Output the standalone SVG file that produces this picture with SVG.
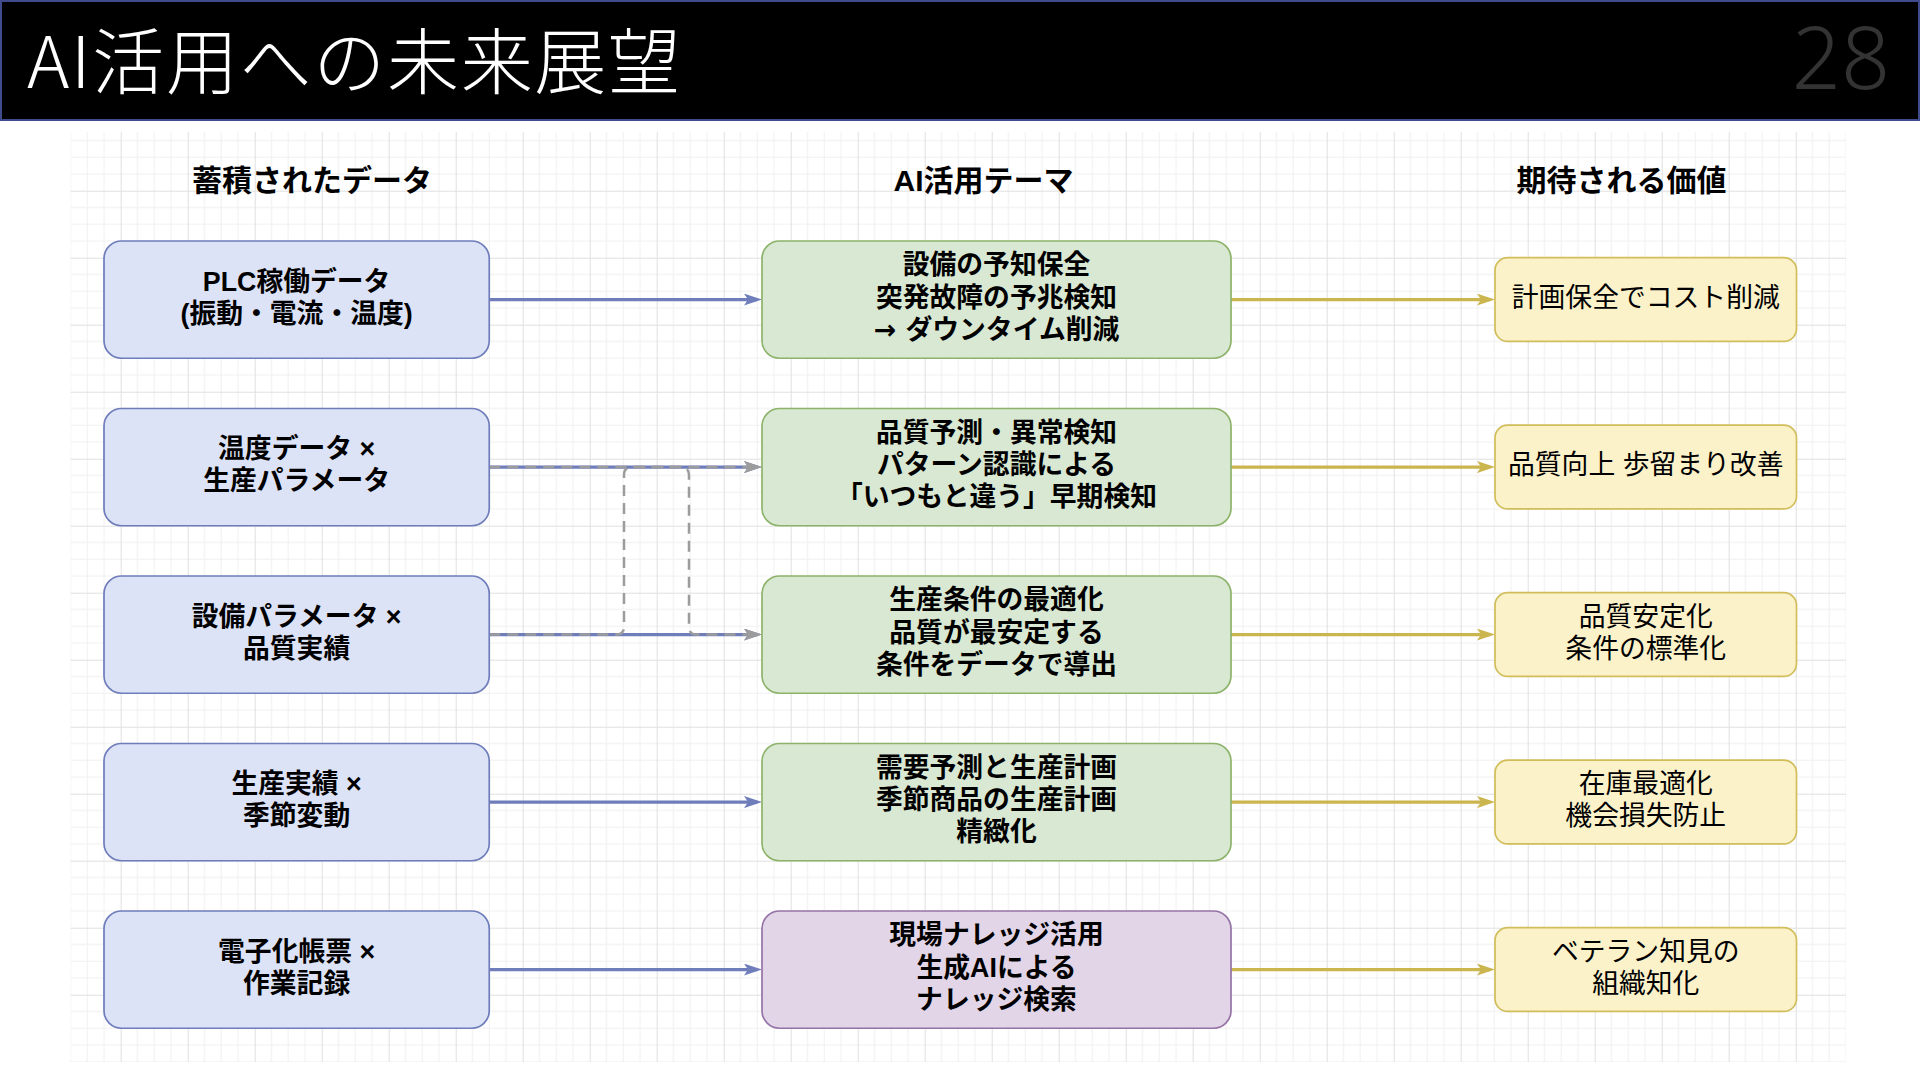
<svg xmlns="http://www.w3.org/2000/svg" width="1920" height="1080" viewBox="0 0 1920 1080">
<style>
.title{font-family:"Noto Sans CJK JP","Noto Sans",sans-serif;font-weight:300;font-size:72px;fill:#ffffff}
.pno{font-family:"Noto Sans","Noto Sans CJK JP",sans-serif;font-weight:300;font-size:86px;fill:#333333}
.hdr{font-family:"Liberation Sans","Noto Sans CJK JP",sans-serif;font-weight:bold;font-size:30px;fill:#000000;text-anchor:middle}
.t{font-family:"Liberation Sans","Noto Sans CJK JP",sans-serif;font-size:26.8px;fill:#000000;text-anchor:middle}
.b{font-weight:bold}
.arw{font-family:"DejaVu Sans","Noto Sans CJK JP",sans-serif}
.src{fill:#dde3f7;stroke:#6f7dbb;stroke-width:1.7}
.ai{fill:#d9e8d3;stroke:#8db36a;stroke-width:1.7}
.gen{fill:#e1d5e7;stroke:#9673a6;stroke-width:1.7}
.val{fill:#fbf2ca;stroke:#d1bd5a;stroke-width:1.7}
.eb{fill:none;stroke:#6f7dbb;stroke-width:3.4}
.ey{fill:none;stroke:#cbb54f;stroke-width:3.4}
.ed{fill:none;stroke:#9c9c9c;stroke-width:2.5;stroke-dasharray:11 7}
</style>
<defs>
<pattern id="grid" patternUnits="userSpaceOnUse" x="120.7" y="123.7" width="67" height="67">
<rect width="67" height="67" fill="#ffffff"/>
<path d="M16.75,0V67M33.5,0V67M50.25,0V67M0,16.75H67M0,33.5H67M0,50.25H67" stroke="#f0f0f0" stroke-width="1" fill="none"/>
<path d="M0.5,0V67M0,0.5H67" stroke="#e0e0e0" stroke-width="1" fill="none"/>
</pattern>
<marker id="ab" markerUnits="userSpaceOnUse" markerWidth="18" markerHeight="12" refX="13" refY="6" orient="auto">
<path d="M0,0L18,6L0,12L4,6z" fill="#6f7dbb"/>
</marker>
<marker id="ay" markerUnits="userSpaceOnUse" markerWidth="18" markerHeight="12" refX="13" refY="6" orient="auto">
<path d="M0,0L18,6L0,12L4,6z" fill="#cbb54f"/>
</marker>
<marker id="ag" markerUnits="userSpaceOnUse" markerWidth="18" markerHeight="12" refX="13" refY="6" orient="auto">
<path d="M0,0L18,6L0,12L4,6z" fill="#9c9c9c"/>
</marker>
</defs>
<rect width="1920" height="1080" fill="#ffffff"/>
<g id="header">
<rect x="1" y="1" width="1918" height="119" fill="#000000" stroke="#3f4b8c" stroke-width="2"/>
<text class="title" x="27" y="88" textLength="653" lengthAdjust="spacing">AI活用への未来展望</text>
<text class="pno" x="1890" y="89" text-anchor="end">28</text>
</g>
<rect id="grid-bg" x="70.5" y="132" width="1775.5" height="930" fill="url(#grid)"/>
<g id="column-headers">
<text class="hdr" x="312" y="191">蓄積されたデータ</text>
<text class="hdr" x="983.5" y="191">AI活用テーマ</text>
<text class="hdr" x="1621.5" y="191">期待される価値</text>
</g>
<g id="connectors">
<path class="eb" d="M489.25,299.6H757" marker-end="url(#ab)"/>
<path class="eb" d="M489.25,467.1H757" marker-end="url(#ab)"/>
<path class="eb" d="M489.25,634.6H757" marker-end="url(#ab)"/>
<path class="eb" d="M489.25,802.1H757" marker-end="url(#ab)"/>
<path class="eb" d="M489.25,969.6H757" marker-end="url(#ab)"/>
<path class="ed" d="M489.25,634.6H616Q624,634.6 624,626.6V475.1Q624,467.1 632,467.1H757" marker-end="url(#ag)"/>
<path class="ed" d="M489.25,467.1H681Q689,467.1 689,475.1V626.6Q689,634.6 697,634.6H757" marker-end="url(#ag)"/>
<path class="ey" d="M1231,299.6H1490" marker-end="url(#ay)"/>
<path class="ey" d="M1231,467.1H1490" marker-end="url(#ay)"/>
<path class="ey" d="M1231,634.6H1490" marker-end="url(#ay)"/>
<path class="ey" d="M1231,802.1H1490" marker-end="url(#ay)"/>
<path class="ey" d="M1231,969.6H1490" marker-end="url(#ay)"/>
</g>
<g id="src1"><rect class="src" x="104" y="241" width="385.25" height="117.25" rx="17.6"/>
<text class="t b"><tspan x="296.6" y="290.5">PLC稼働データ</tspan><tspan x="296.6" y="322.7">(振動・電流・温度)</tspan></text></g>
<g id="src2"><rect class="src" x="104" y="408.5" width="385.25" height="117.25" rx="17.6"/>
<text class="t b"><tspan x="296.6" y="458">温度データ ×</tspan><tspan x="296.6" y="490.2">生産パラメータ</tspan></text></g>
<g id="src3"><rect class="src" x="104" y="576" width="385.25" height="117.25" rx="17.6"/>
<text class="t b"><tspan x="296.6" y="625.5">設備パラメータ ×</tspan><tspan x="296.6" y="657.7">品質実績</tspan></text></g>
<g id="src4"><rect class="src" x="104" y="743.5" width="385.25" height="117.25" rx="17.6"/>
<text class="t b"><tspan x="296.6" y="793">生産実績 ×</tspan><tspan x="296.6" y="825.2">季節変動</tspan></text></g>
<g id="src5"><rect class="src" x="104" y="911" width="385.25" height="117.25" rx="17.6"/>
<text class="t b"><tspan x="296.6" y="960.5">電子化帳票 ×</tspan><tspan x="296.6" y="992.7">作業記録</tspan></text></g>
<g id="ai1"><rect class="ai" x="762" y="241" width="469" height="117.25" rx="17.6"/>
<text class="t b"><tspan x="996.5" y="274.4">設備の予知保全</tspan><tspan x="996.5" y="306.6">突発故障の予兆検知</tspan><tspan class="arw" x="996.5" y="338.8">→ ダウンタイム削減</tspan></text></g>
<g id="ai2"><rect class="ai" x="762" y="408.5" width="469" height="117.25" rx="17.6"/>
<text class="t b"><tspan x="996.5" y="441.9">品質予測・異常検知</tspan><tspan x="996.5" y="474.1">パターン認識による</tspan><tspan x="996.5" y="506.3">「いつもと違う」早期検知</tspan></text></g>
<g id="ai3"><rect class="ai" x="762" y="576" width="469" height="117.25" rx="17.6"/>
<text class="t b"><tspan x="996.5" y="609.4">生産条件の最適化</tspan><tspan x="996.5" y="641.6">品質が最安定する</tspan><tspan x="996.5" y="673.8">条件をデータで導出</tspan></text></g>
<g id="ai4"><rect class="ai" x="762" y="743.5" width="469" height="117.25" rx="17.6"/>
<text class="t b"><tspan x="996.5" y="776.9">需要予測と生産計画</tspan><tspan x="996.5" y="809.1">季節商品の生産計画</tspan><tspan x="996.5" y="841.3">精緻化</tspan></text></g>
<g id="ai5"><rect class="gen" x="762" y="911" width="469" height="117.25" rx="17.6"/>
<text class="t b"><tspan x="996.5" y="944.4">現場ナレッジ活用</tspan><tspan x="996.5" y="976.6">生成AIによる</tspan><tspan x="996.5" y="1008.8">ナレッジ検索</tspan></text></g>
<g id="val1"><rect class="val" x="1495" y="257.7" width="301.5" height="83.75" rx="12.6"/>
<text class="t"><tspan x="1645.75" y="306.6">計画保全でコスト削減</tspan></text></g>
<g id="val2"><rect class="val" x="1495" y="425.2" width="301.5" height="83.75" rx="12.6"/>
<text class="t"><tspan x="1645.75" y="474.1">品質向上 歩留まり改善</tspan></text></g>
<g id="val3"><rect class="val" x="1495" y="592.7" width="301.5" height="83.75" rx="12.6"/>
<text class="t"><tspan x="1645.75" y="625.5">品質安定化</tspan><tspan x="1645.75" y="657.7">条件の標準化</tspan></text></g>
<g id="val4"><rect class="val" x="1495" y="760.2" width="301.5" height="83.75" rx="12.6"/>
<text class="t"><tspan x="1645.75" y="793">在庫最適化</tspan><tspan x="1645.75" y="825.2">機会損失防止</tspan></text></g>
<g id="val5"><rect class="val" x="1495" y="927.7" width="301.5" height="83.75" rx="12.6"/>
<text class="t"><tspan x="1645.75" y="960.5">ベテラン知見の</tspan><tspan x="1645.75" y="992.7">組織知化</tspan></text></g>
</svg>
